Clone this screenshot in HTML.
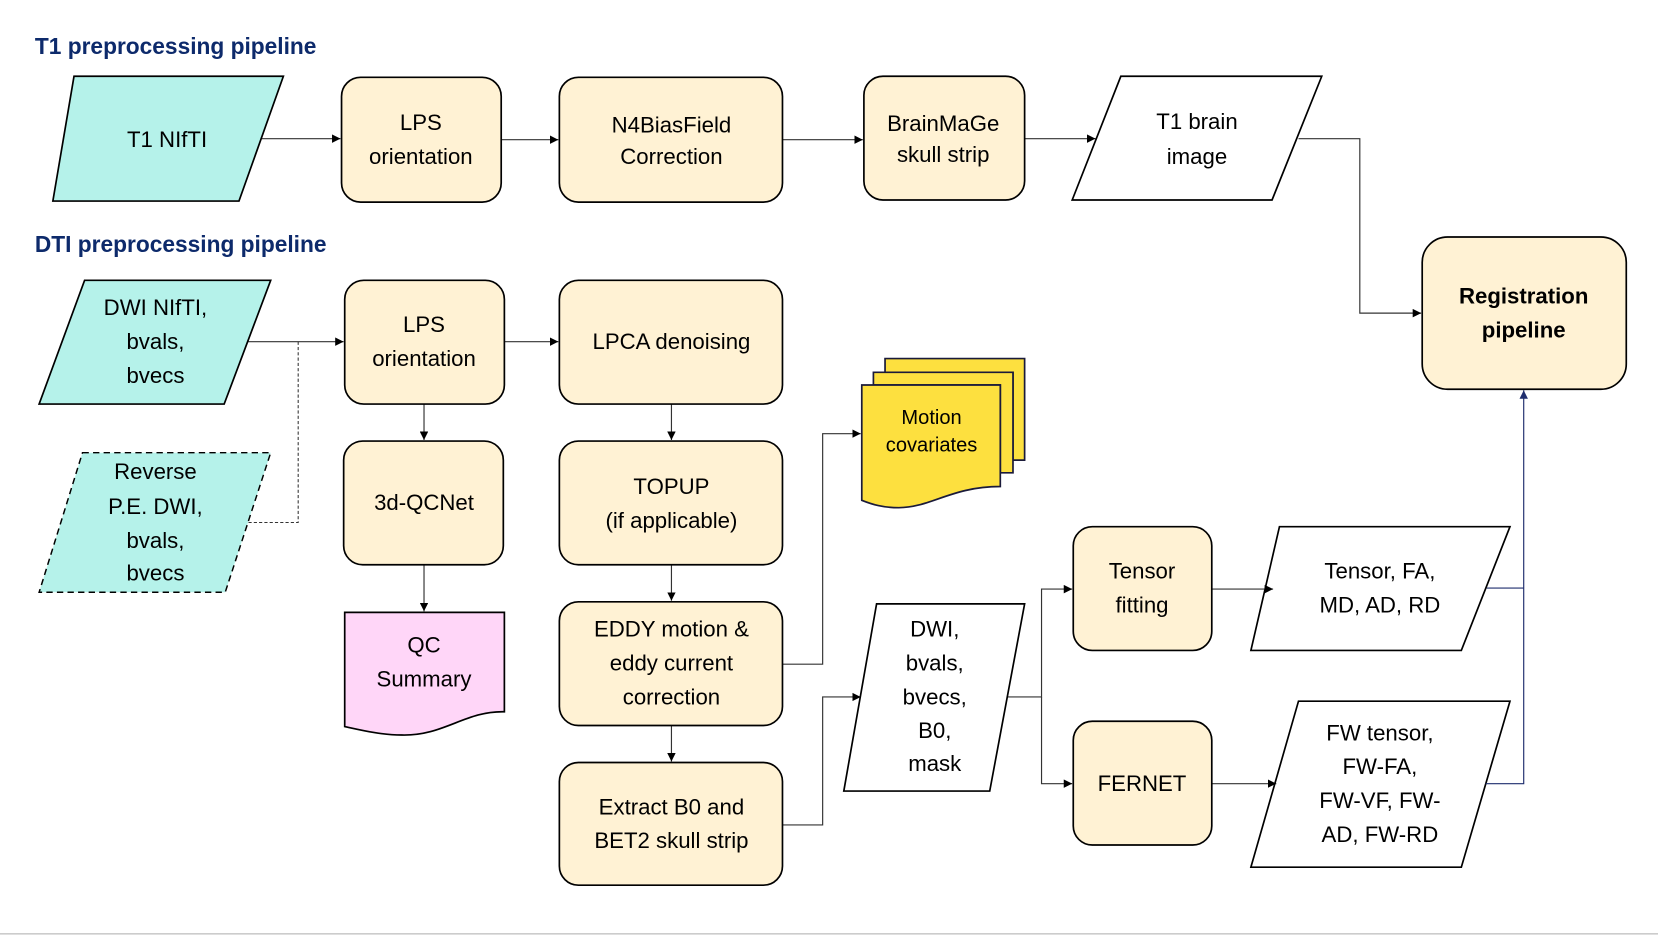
<!DOCTYPE html>
<html><head><meta charset="utf-8"><style>
html,body{margin:0;padding:0;background:#fff;}
svg{display:block;}
text{font-family:"Liberation Sans",sans-serif;font-size:21px;fill:#000;text-anchor:middle;}
.t{font-weight:bold;fill:#0d2a6b;text-anchor:start;font-size:21.5px;}
.b{fill:#fff2d4;stroke:#000;stroke-width:1.6;}
.c{fill:#b5f2ea;stroke:#000;stroke-width:1.6;}
.w{fill:#fff;stroke:#000;stroke-width:1.6;}
.l{fill:none;stroke:#333;stroke-width:1.1;}
</style></head><body>
<svg width="1658" height="935" viewBox="0 0 1568 884" xmlns="http://www.w3.org/2000/svg">
<defs><marker id="a" viewBox="0 0 10 10" refX="10" refY="5" markerWidth="8" markerHeight="8" orient="auto" markerUnits="userSpaceOnUse"><path d="M0,0L10,5L0,10z" fill="#000"/></marker>
<marker id="a2" viewBox="0 0 10 10" refX="10" refY="5" markerWidth="8" markerHeight="8" orient="auto" markerUnits="userSpaceOnUse"><path d="M0,0L10,5L0,10z" fill="#1f2e6e"/></marker></defs>
<text class="t" x="33" y="51">T1 preprocessing pipeline</text>
<text class="t" x="33" y="238">DTI preprocessing pipeline</text>

<!-- shapes first where arrows should sit on top -->
<polygon class="w" points="1210,498 1428,498 1382,615 1183,615"/>
<polygon class="w" points="1228,663 1428,663 1382,820 1183,820"/>

<!-- connectors -->
<g class="l" marker-end="url(#a)">
<path d="M247,131H322"/><path d="M474,132H528"/><path d="M740,132H816"/><path d="M969,131H1036"/>
<path d="M1228,131H1286V296H1344"/>
<path d="M233,323H325"/><path d="M477,323H528"/>
<path d="M401,382V416"/><path d="M401,534V578"/>
<path d="M635,382V416"/><path d="M635,534V568"/><path d="M635,686V720"/>
<path d="M740,628H778V410H814"/><path d="M740,780H778V659H814"/>
<path d="M953,659H985V557H1014"/><path d="M985,659V741H1014"/>
<path d="M1146,557H1204"/><path d="M1146,741H1207"/>
</g>
<path d="M282,323V494H235" fill="none" stroke="#333" stroke-width="1" stroke-dasharray="3,2"/>
<path d="M1406,556H1441M1405,741H1441V369" fill="none" stroke="#1f2e6e" stroke-width="1.1" marker-end="url(#a2)"/>

<!-- T1 row -->
<polygon class="c" points="70,72 268,72 226,190 50,190"/><text x="158" y="139">T1 NIfTI</text>
<rect class="b" x="323" y="73" width="151" height="118" rx="18"/><text x="398" y="123">LPS</text><text x="398" y="155">orientation</text>
<rect class="b" x="529" y="73" width="211" height="118" rx="18"/><text x="635" y="125">N4BiasField</text><text x="635" y="155">Correction</text>
<rect class="b" x="817" y="72" width="152" height="117" rx="18"/><text x="892" y="124">BrainMaGe</text><text x="892" y="153">skull strip</text>
<polygon class="w" points="1060,72 1250,72 1203,189 1014,189"/><text x="1132" y="122">T1 brain</text><text x="1132" y="155">image</text>
<rect class="b" x="1345" y="224" width="193" height="144" rx="24"/><text x="1441" y="287" style="font-weight:bold">Registration</text><text x="1441" y="319" style="font-weight:bold">pipeline</text>

<!-- DTI -->
<polygon class="c" points="80,265 256,265 212,382 37,382"/><text x="147" y="298">DWI NIfTI,</text><text x="147" y="330">bvals,</text><text x="147" y="362">bvecs</text>
<polygon points="78,428 256,428 213,560 37,560" fill="#b5f2ea" stroke="#000" stroke-width="1.4" stroke-dasharray="6,4"/>
<text x="147" y="453">Reverse</text><text x="147" y="486">P.E. DWI,</text><text x="147" y="518">bvals,</text><text x="147" y="549">bvecs</text>
<rect class="b" x="326" y="265" width="151" height="117" rx="18"/><text x="401" y="314">LPS</text><text x="401" y="346">orientation</text>
<rect class="b" x="529" y="265" width="211" height="117" rx="18"/><text x="635" y="330">LPCA denoising</text>
<rect class="b" x="325" y="417" width="151" height="117" rx="18"/><text x="401" y="482">3d-QCNet</text>
<path d="M326,579H477V673C440,672 420,696 380,695C360,695 340,690 326,687Z" fill="#ffd6f8" stroke="#000" stroke-width="1.6"/>
<text x="401" y="617">QC</text><text x="401" y="649">Summary</text>
<rect class="b" x="529" y="417" width="211" height="117" rx="18"/><text x="635" y="467">TOPUP</text><text x="635" y="499">(if applicable)</text>
<rect class="b" x="529" y="569" width="211" height="117" rx="18"/><text x="635" y="602">EDDY motion &amp;</text><text x="635" y="634">eddy current</text><text x="635" y="666">correction</text>
<rect class="b" x="529" y="721" width="211" height="116" rx="18"/><text x="635" y="770">Extract B0 and</text><text x="635" y="802">BET2 skull strip</text>

<!-- motion covariates -->
<g fill="#fde03f" stroke="#1a1a3a" stroke-width="1.6">
<path d="M837,339H969V435H958V352H837Z"/>
<path d="M826,352H958V447H946V364H826Z"/>
<path d="M815,364H946V460C900,460 880,480 850,480C835,480 825,477 815,473Z"/>
</g>
<text x="881" y="401" style="font-size:19px">Motion</text><text x="881" y="427" style="font-size:19px">covariates</text>

<polygon class="w" points="829,571 969,571 936,748 798,748"/>
<text x="884" y="602">DWI,</text><text x="884" y="634">bvals,</text><text x="884" y="666">bvecs,</text><text x="884" y="698">B0,</text><text x="884" y="729">mask</text>
<rect class="b" x="1015" y="498" width="131" height="117" rx="18"/><text x="1080" y="547">Tensor</text><text x="1080" y="579">fitting</text>
<rect class="b" x="1015" y="682" width="131" height="117" rx="18"/><text x="1080" y="748">FERNET</text>
<text x="1305" y="547">Tensor, FA,</text><text x="1305" y="579">MD, AD, RD</text>
<text x="1305" y="700">FW tensor,</text><text x="1305" y="732">FW-FA,</text><text x="1305" y="764">FW-VF, FW-</text><text x="1305" y="796">AD, FW-RD</text>
<line x1="0" y1="883" x2="1568" y2="883" stroke="#ccc" stroke-width="1.5"/>
</svg>
</body></html>
